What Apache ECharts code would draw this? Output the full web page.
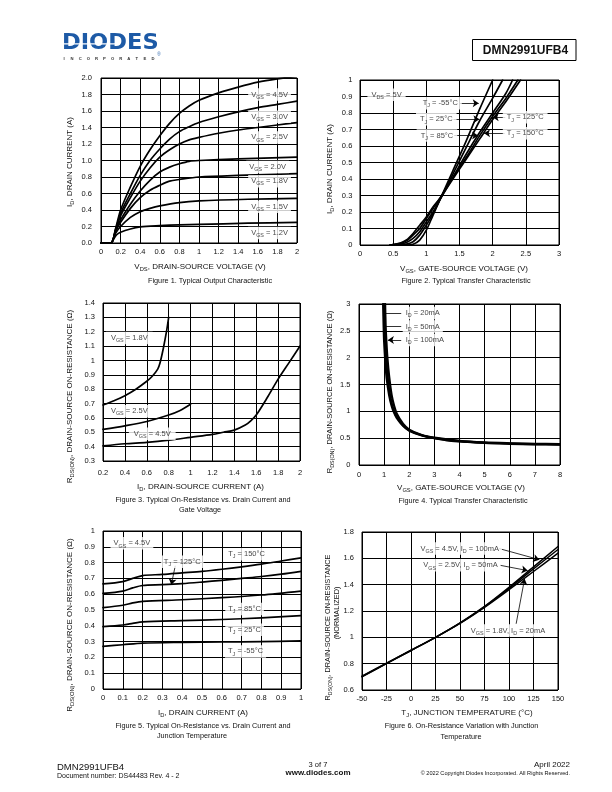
<!DOCTYPE html>
<html>
<head>
<meta charset="utf-8">
<script src="https://cdn.jsdelivr.net/npm/echarts@6/dist/echarts.min.js"></script>
<style>
  html, body { margin: 0; padding: 0; background: #fff; }
  #page { width: 612px; height: 792px; }
</style>
</head>
<body>
<div id="page"></div>
<script>
// ---- Figure 1: output characteristic, I_D vs V_DS ----
const f1Vgs45 = [[0,0],[0.1,0],[0.15,0.18],[0.2,0.4],[0.3,0.68],[0.4,0.93],[0.5,1.13],[0.6,1.3],[0.7,1.45],[0.8,1.57],[0.9,1.66],[1.0,1.73],[1.2,1.82],[1.4,1.89],[1.6,1.95],[1.8,1.99],[2.0,2.02]];
const f1Vgs30 = [[0,0],[0.1,0],[0.15,0.17],[0.2,0.36],[0.3,0.6],[0.4,0.82],[0.5,1.0],[0.6,1.14],[0.7,1.26],[0.8,1.35],[0.9,1.41],[1.0,1.46],[1.2,1.53],[1.4,1.59],[1.6,1.64],[1.8,1.68],[2.0,1.72]];
const f1Vgs25 = [[0,0],[0.1,0],[0.15,0.16],[0.2,0.33],[0.3,0.55],[0.4,0.75],[0.5,0.91],[0.6,1.04],[0.7,1.13],[0.8,1.2],[0.9,1.25],[1.0,1.28],[1.2,1.33],[1.4,1.37],[1.6,1.4],[1.8,1.43],[2.0,1.46]];
const f1Vgs20 = [[0,0],[0.1,0],[0.15,0.15],[0.2,0.28],[0.3,0.47],[0.4,0.63],[0.5,0.76],[0.6,0.86],[0.7,0.92],[0.8,0.96],[0.9,0.99],[1.0,1.0],[1.4,1.02],[2.0,1.04]];
const f1Vgs18 = [[0,0],[0.1,0],[0.15,0.14],[0.2,0.25],[0.3,0.42],[0.4,0.55],[0.5,0.64],[0.6,0.7],[0.7,0.75],[0.8,0.77],[1.0,0.8],[1.4,0.82],[2.0,0.84]];
const f1Vgs15 = [[0,0],[0.1,0],[0.15,0.12],[0.2,0.2],[0.3,0.31],[0.4,0.38],[0.5,0.42],[0.6,0.45],[0.8,0.49],[1.0,0.51],[1.5,0.53],[2.0,0.54]];
const f1Vgs12 = [[0,0],[0.1,0],[0.13,0.05],[0.16,0.1],[0.2,0.13],[0.3,0.17],[0.4,0.195],[0.6,0.21],[0.8,0.22],[1.0,0.225],[1.5,0.24],[2.0,0.25]];

// ---- Figure 2: transfer characteristic, I_D vs V_GS ----
const f2Tm55 = [[0.7,0],[0.8,0.005],[0.9,0.03],[1.0,0.09],[1.1,0.18],[1.2,0.27],[1.4,0.45],[1.6,0.63],[1.8,0.82],[2.0,1.0]];
const f2T25 = [[0.6,0],[0.7,0.005],[0.8,0.02],[0.9,0.06],[1.0,0.12],[1.1,0.19],[1.2,0.27],[1.4,0.43],[1.6,0.59],[1.8,0.75],[2.0,0.89],[2.15,1.0]];
const f2T85 = [[0.5,0],[0.6,0.005],[0.7,0.015],[0.8,0.04],[0.9,0.08],[1.0,0.14],[1.1,0.2],[1.2,0.27],[1.4,0.41],[1.6,0.55],[1.8,0.68],[2.0,0.8],[2.2,0.92],[2.3,1.0]];
const f2T125 = [[0.45,0],[0.6,0.01],[0.7,0.025],[0.8,0.06],[0.9,0.1],[1.0,0.16],[1.1,0.22],[1.2,0.28],[1.4,0.41],[1.6,0.53],[1.8,0.66],[2.0,0.78],[2.2,0.89],[2.38,1.0]];
const f2T150 = [[0.45,0],[0.6,0.01],[0.7,0.03],[0.8,0.07],[0.9,0.12],[1.0,0.17],[1.1,0.23],[1.2,0.28],[1.4,0.4],[1.6,0.52],[1.8,0.64],[2.0,0.76],[2.2,0.87],[2.42,1.0]];

// ---- Figure 3: R_DS(ON) vs I_D and V_GS ----
const f3Vgs18 = [[0.2,0.69],[0.3,0.72],[0.4,0.755],[0.5,0.8],[0.6,0.855],[0.65,0.89],[0.7,0.94],[0.72,0.98],[0.75,1.08],[0.78,1.2],[0.8,1.3]];
const f3Vgs25 = [[0.2,0.52],[0.4,0.545],[0.6,0.575],[0.8,0.62],[0.9,0.65],[1.0,0.695]];
const f3Vgs45 = [[0.2,0.405],[0.4,0.42],[0.6,0.43],[0.8,0.445],[1.0,0.465],[1.2,0.485],[1.3,0.5],[1.4,0.515],[1.5,0.55],[1.55,0.58],[1.6,0.62],[1.7,0.74],[1.8,0.87],[1.9,0.985],[2.0,1.1]];

// ---- Figure 4: R_DS(ON) vs V_GS ----
const f4Id20 = [[0.96,3.0],[0.98,2.6],[1.0,2.3],[1.05,1.9],[1.1,1.62],[1.2,1.3],[1.3,1.1],[1.4,0.97],[1.5,0.88],[1.75,0.73],[2.0,0.64],[2.5,0.55],[3.0,0.5],[3.5,0.46],[4.0,0.44],[5.0,0.41],[6.0,0.395],[7.0,0.385],[8.0,0.38]];
const f4Id50 = [[0.99,3.0],[1.02,2.6],[1.05,2.25],[1.1,1.85],[1.15,1.6],[1.2,1.4],[1.3,1.15],[1.4,1.0],[1.5,0.9],[1.75,0.74],[2.0,0.645],[2.5,0.555],[3.0,0.5],[4.0,0.445],[5.0,0.415],[6.0,0.4],[7.0,0.39],[8.0,0.385]];
const f4Id100 = [[1.04,3.0],[1.06,2.6],[1.09,2.3],[1.13,2.0],[1.2,1.65],[1.3,1.3],[1.4,1.1],[1.5,0.96],[1.75,0.77],[2.0,0.66],[2.5,0.56],[3.0,0.51],[4.0,0.45],[5.0,0.42],[6.0,0.405],[7.0,0.395],[8.0,0.39]];

// ---- Figure 5: R_DS(ON) vs I_D and T_J ----
const f5T150 = [[0,0.665],[0.1,0.68],[0.15,0.7],[0.2,0.718],[0.3,0.725],[0.4,0.735],[0.5,0.745],[0.6,0.758],[0.7,0.773],[0.8,0.79],[0.9,0.81],[1.0,0.83]];
const f5T125 = [[0,0.605],[0.1,0.62],[0.15,0.64],[0.2,0.655],[0.3,0.66],[0.4,0.667],[0.5,0.677],[0.6,0.688],[0.7,0.7],[0.8,0.712],[0.9,0.727],[1.0,0.745]];
const f5T85 = [[0,0.515],[0.1,0.53],[0.15,0.545],[0.2,0.555],[0.4,0.565],[0.6,0.578],[0.8,0.595],[1.0,0.62]];
const f5T25 = [[0,0.395],[0.1,0.405],[0.15,0.415],[0.2,0.425],[0.4,0.433],[0.6,0.44],[0.8,0.45],[1.0,0.465]];
const f5Tm55 = [[0,0.27],[0.1,0.28],[0.2,0.29],[0.4,0.295],[0.6,0.298],[0.8,0.3],[1.0,0.305]];

// ---- Figure 6: normalized R_DS(ON) vs T_J ----
const f6Temps = [-50, -25, 0, 25, 50, 75, 100, 125, 150];
const f6Vgs45 = [0.7, 0.8, 0.9, 1.0, 1.11, 1.235, 1.38, 1.535, 1.69];
const f6Vgs25 = [0.703, 0.802, 0.9, 1.0, 1.108, 1.232, 1.372, 1.52, 1.667];
const f6Vgs18 = [0.705, 0.804, 0.902, 1.0, 1.106, 1.228, 1.362, 1.5, 1.64];

// ---- in-plot annotations: [text, x, y] in data units ----
const f1Notes = [
  ['V_{GS} = 4.5V', 1.72, 1.8], ['V_{GS} = 3.0V', 1.72, 1.53], ['V_{GS} = 2.5V', 1.72, 1.28],
  ['V_{GS} = 2.0V', 1.7, 0.92], ['V_{GS} = 1.8V', 1.72, 0.75], ['V_{GS} = 1.5V', 1.72, 0.44],
  ['V_{GS} = 1.2V', 1.72, 0.12]
];
const f2Notes = [
  ['V_{DS} = 5V', 0.4, 0.91], ['T_{J} = -55°C', 1.21, 0.859], ['T_{J} = 25°C', 1.15, 0.762],
  ['T_{J} = 85°C', 1.16, 0.663], ['T_{J} = 125°C', 2.49, 0.774], ['T_{J} = 150°C', 2.49, 0.677]
];
const f2Arrows = [[1.5, 0.859, 1.79, 0.859], [1.41, 0.762, 1.8, 0.762], [1.42, 0.663, 1.78, 0.663], [2.19, 0.774, 2.0, 0.774], [2.18, 0.677, 1.87, 0.677]];
const f3Notes = [['V_{GS} = 1.8V', 0.44, 1.157], ['V_{GS} = 2.5V', 0.44, 0.647], ['V_{GS} = 4.5V', 0.65, 0.49]];
const f4Notes = [['I_{D} = 20mA', 1.72, 2.83], ['I_{D} = 50mA', 1.72, 2.58], ['I_{D} = 100mA', 1.72, 2.33]];
const f4Arrows = [[1.68, 2.83, 1.0, 2.83, 0], [1.68, 2.58, 1.03, 2.58, 0], [1.68, 2.33, 1.15, 2.33, 1]];
const f5Notes = [
  ['V_{GS} = 4.5V', 0.146, 0.922], ['T_{J} = 150°C', 0.725, 0.853], ['T_{J} = 125°C', 0.4, 0.806],
  ['T_{J} = 85°C', 0.715, 0.507], ['T_{J} = 25°C', 0.715, 0.375], ['T_{J} = -55°C', 0.72, 0.238]
];
const f5Arrows = [[0.365, 0.78, 0.345, 0.66]];
const f6Notes = [['V_{GS} = 4.5V, I_{D} = 100mA', 49.7, 1.674], ['V_{GS} = 2.5V, I_{D} = 50mA', 50.5, 1.547], ['V_{GS} = 1.8V, I_{D} = 20mA', 99, 1.052]];
const f6Arrows = [[90, 1.674, 131, 1.59], [91, 1.547, 119, 1.507], [107.3, 1.103, 115.9, 1.444]];

const FF = '"Liberation Sans", Arial, Helvetica, sans-serif';
const INK = '#111';

// 'V_{GS} = 5V' -> rich text with subscript tokens
function rt(s) {
  return s.split(/_\{([^}]*)\}/).map((p, i) => p === '' ? '' : (i % 2 ? '{s|' + p + '}' : '{t|' + p + '}')).join('');
}
function richStyle(size) {
  return {
    t: { fontSize: size, fontFamily: FF, color: INK, lineHeight: size + 3 },
    s: { fontSize: size * 0.72, fontFamily: FF, color: INK, lineHeight: size * 0.75, verticalAlign: 'bottom' }
  };
}

const grids = [
  { left: 101, top: 78, width: 196, height: 165 },
  { left: 360, top: 80, width: 199, height: 165 },
  { left: 103, top: 303, width: 197, height: 158 },
  { left: 359, top: 304, width: 201, height: 161 },
  { left: 103, top: 531, width: 198, height: 158 },
  { left: 362, top: 532, width: 196, height: 158 }
].map(g => Object.assign({ show: true, borderColor: '#000', borderWidth: 1, backgroundColor: '#fff', containLabel: false }, g));

function axis(idx, min, max, interval, margin, fmt) {
  return {
    type: 'value', gridIndex: idx, min: min, max: max, interval: interval,
    axisLine: { show: false }, axisTick: { show: false },
    splitLine: { show: true, lineStyle: { color: '#000', width: 1 } },
    axisLabel: { color: INK, fontSize: 7.5, fontFamily: FF, margin: margin, formatter: fmt, showMinLabel: true, showMaxLabel: true }
  };
}

const xAxes = [
  axis(0, 0, 2, 0.2, 5),
  axis(1, 0, 3, 0.5, 4.5),
  axis(2, 0.2, 2, 0.2, 8),
  axis(3, 0, 8, 1, 5.5),
  axis(4, 0, 1, 0.1, 4.5),
  axis(5, -50, 150, 25, 5)
];
const yAxes = [
  axis(0, 0, 2, 0.2, 9, v => v.toFixed(1)),
  axis(1, 0, 1, 0.1, 7.7),
  axis(2, 0.3, 1.4, 0.1, 8),
  axis(3, 0, 3, 0.5, 8.5),
  axis(4, 0, 1, 0.1, 8),
  axis(5, 0.6, 1.8, 0.2, 8)
];

function curve(idx, data, width) {
  return {
    type: 'line', xAxisIndex: idx, yAxisIndex: idx, data: data,
    showSymbol: false, smooth: 0.3, silent: true,
    lineStyle: { color: '#000', width: width || 1.7, cap: 'round', join: 'round' }, z: 3
  };
}

function notes(idx, items, arrows, leftAlign, pad) {
  const s = {
    type: 'scatter', xAxisIndex: idx, yAxisIndex: idx, symbolSize: 1, silent: true, z: 5,
    itemStyle: { color: 'rgba(0,0,0,0)' },
    data: items.map(n => ({ value: [n[1], n[2]], label: { formatter: rt(n[0]) } })),
    label: {
      show: true, position: leftAlign ? 'right' : 'inside', distance: 0,
      backgroundColor: '#fff', padding: pad || [1, 3], rich: richStyle(7.5)
    }
  };
  if (arrows) {
    s.markLine = {
      silent: true, symbolSize: 6, animation: false,
      lineStyle: { color: '#000', width: 0.8, type: 'solid' },
      label: { show: false },
      data: arrows.map(a => [
        { coord: [a[0], a[1]], symbol: 'none' },
        { coord: [a[2], a[3]], symbol: a[4] === 0 ? 'none' : 'arrow' }
      ])
    };
  }
  return s;
}

const pair = (xs, ys) => xs.map((x, i) => [x, ys[i]]);

const series = [
  curve(0, f1Vgs45), curve(0, f1Vgs30), curve(0, f1Vgs25), curve(0, f1Vgs20),
  curve(0, f1Vgs18), curve(0, f1Vgs15), curve(0, f1Vgs12),
  notes(0, f1Notes),
  curve(1, f2Tm55), curve(1, f2T25), curve(1, f2T85), curve(1, f2T125), curve(1, f2T150),
  notes(1, f2Notes, f2Arrows, false, [1, 4]),
  curve(2, f3Vgs18), curve(2, f3Vgs25), curve(2, f3Vgs45),
  notes(2, f3Notes, null, false, [1, 5]),
  curve(3, f4Id20, 2.2), curve(3, f4Id50, 2.2), curve(3, f4Id100, 2.2),
  notes(3, f4Notes, f4Arrows, true),
  curve(4, f5T150), curve(4, f5T125), curve(4, f5T85), curve(4, f5T25), curve(4, f5Tm55),
  notes(4, f5Notes, f5Arrows),
  curve(5, pair(f6Temps, f6Vgs45), 1.5), curve(5, pair(f6Temps, f6Vgs25), 1.5), curve(5, pair(f6Temps, f6Vgs18), 1.5),
  notes(5, f6Notes, f6Arrows)
];

// page texts: captions, axis titles, header and footer
function txt(x, y, text, size, opts) {
  const o = opts || {};
  return {
    type: 'text', x: x, y: y, rotation: o.rot ? Math.PI / 2 : 0, z: 10, silent: true,
    style: {
      text: o.rich ? rt(text) : text, rich: o.rich ? richStyle(size) : undefined,
      fontSize: size, fontFamily: o.family || FF, fontWeight: o.bold ? 'bold' : 'normal',
      fill: o.color || INK, align: o.align || 'center', verticalAlign: 'middle'
    }
  };
}

const graphics = [
  // header
  { type: 'text', x: 62, y: 44, z: 10, scaleX: 1.1, silent: true,
    style: { text: 'DIODES', fontSize: 20.5, fontFamily: '"DejaVu Sans", sans-serif', fontWeight: 'bold', fill: '#1d5aa6', align: 'left', verticalAlign: 'middle' } },
  { type: 'rect', z: 11, silent: true, shape: { x: 64, y: 43.3, width: 52, height: 1.1 }, style: { fill: '#fff' } },
  txt(159, 54.5, '®', 4.5, { color: '#1d5aa6' }),
  { type: 'rect', z: 10, silent: true, shape: { x: 472.5, y: 39.5, width: 103.5, height: 21 }, style: { fill: 'none', stroke: '#000', lineWidth: 1 } },
  txt(525.5, 50.5, 'DMN2991UFB4', 12, { bold: true }),
  // footer
  txt(57, 767, 'DMN2991UFB4', 9.5, { align: 'left' }),
  txt(57, 776, 'Document number: DS44483 Rev. 4 - 2', 7, { align: 'left' }),
  txt(318, 765, '3 of 7', 7.5),
  txt(318, 773, 'www.diodes.com', 8, { bold: true }),
  txt(570, 765, 'April 2022', 8, { align: 'right' }),
  txt(570, 773, '© 2022 Copyright Diodes Incorporated. All Rights Reserved.', 5.6, { align: 'right' }),
  // figure 1
  txt(200, 267, 'V_{DS}, DRAIN-SOURCE VOLTAGE (V)', 8, { rich: true }),
  txt(69.5, 162, 'I_{D}, DRAIN CURRENT (A)', 8, { rich: true, rot: true }),
  txt(210, 281, 'Figure 1. Typical Output Characteristic', 7.3),
  // figure 2
  txt(464, 269, 'V_{GS}, GATE-SOURCE VOLTAGE (V)', 8, { rich: true }),
  txt(329.5, 169, 'I_{D}, DRAIN CURRENT (A)', 8, { rich: true, rot: true }),
  txt(466, 280.5, 'Figure 2. Typical Transfer Characteristic', 7.3),
  // figure 3
  txt(200.5, 487, 'I_{D}, DRAIN-SOURCE CURRENT (A)', 8, { rich: true }),
  txt(69.5, 396.5, 'R_{DS(ON)}, DRAIN-SOURCE ON-RESISTANCE (Ω)', 8, { rich: true, rot: true }),
  txt(203, 500, 'Figure 3. Typical On-Resistance vs. Drain Current and', 7.3),
  txt(200, 510, 'Gate Voltage', 7.3),
  // figure 4
  txt(461, 487.5, 'V_{GS}, GATE-SOURCE VOLTAGE (V)', 8, { rich: true }),
  txt(329.5, 392, 'R_{DS(ON)}, DRAIN-SOURCE ON-RESISTANCE (Ω)', 7.5, { rich: true, rot: true }),
  txt(463, 500.5, 'Figure 4. Typical Transfer Characteristic', 7.3),
  // figure 5
  txt(203, 712.5, 'I_{D}, DRAIN CURRENT (A)', 8, { rich: true }),
  txt(69.5, 625, 'R_{DS(ON)}, DRAIN-SOURCE ON-RESISTANCE (Ω)', 8, { rich: true, rot: true }),
  txt(203, 726, 'Figure 5. Typical On-Resistance vs. Drain Current and', 7.3),
  txt(192, 736, 'Junction Temperature', 7.3),
  // figure 6
  txt(328, 627.5, 'R_{DS(ON)}, DRAIN-SOURCE ON-RESISTANCE', 7.3, { rich: true, rot: true }),
  txt(336.5, 613, '(NORMALIZED)', 7.3, { rot: true }),
  txt(467, 713, 'T_{J}, JUNCTION TEMPERATURE (°C)', 8, { rich: true }),
  txt(461.5, 726, 'Figure 6. On-Resistance Variation with Junction', 7.3),
  txt(461, 736.5, 'Temperature', 7.3)
];

// letter-spaced "INCORPORATED" under the logo
'INCORPORATED'.split('').forEach((ch, i) => {
  graphics.push(txt(64 + i * 8.1, 58.5, ch, 4.2, { bold: true, color: '#333' }));
});

const chart = echarts.init(document.getElementById('page'));
chart.setOption({
  animation: false,
  backgroundColor: '#fff',
  grid: grids,
  xAxis: xAxes,
  yAxis: yAxes,
  series: series,
  graphic: graphics
});
</script>
</body>
</html>
